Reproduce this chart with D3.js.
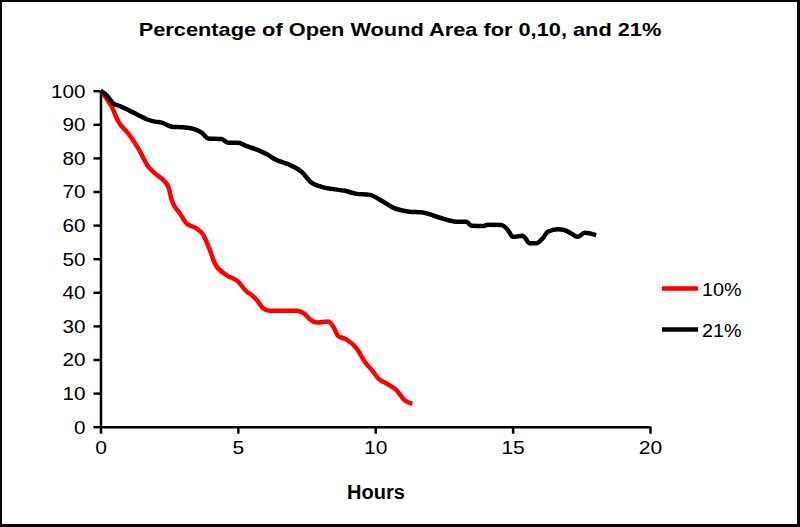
<!DOCTYPE html>
<html><head><meta charset="utf-8">
<script src="https://cdn.jsdelivr.net/npm/d3@7"></script>
<style>html,body{margin:0;padding:0;background:#fff;}svg{display:block;font-family:"Liberation Sans",Arial,sans-serif;}</style>
</head><body>
<svg id="c" width="800" height="527"></svg>
<script>
const title = "Percentage of Open Wound Area for 0,10, and 21%";
const xLabel = "Hours";
const xTicks = [0, 5, 10, 15, 20];
const yTicks = [0, 10, 20, 30, 40, 50, 60, 70, 80, 90, 100];
const seriesNames = ["10%", "21%"];
const seriesColors = ["#ff0000", "#000000"];

const hours10 = [0, 0.41, 0.65, 1.01, 1.37, 1.74, 1.98, 2.22, 2.47, 2.59, 2.89, 3.13, 3.5, 3.74, 3.98, 4.16, 4.59, 5.01, 5.32, 5.5, 5.74, 5.92, 6.16, 6.89, 7.13, 7.44, 7.62, 7.92, 8.28, 8.47, 8.65, 8.95, 9.32, 9.62, 9.92, 10.1, 10.41, 10.77, 11.07, 11.35];
const values10 = [100, 95.2, 90.8, 87.3, 82.9, 77.4, 75.4, 73.9, 71.4, 67.5, 63.5, 60.5, 59.0, 57.1, 52.6, 48.6, 45.1, 43.2, 40.2, 39.2, 37.2, 35.2, 34.5, 34.5, 34.5, 33.5, 32.0, 31.0, 31.3, 29.8, 27.0, 26.0, 23.3, 19.3, 16.4, 14.4, 12.9, 10.9, 7.9, 6.8];

const hours21 = [0, 0.22, 0.47, 0.71, 1.07, 1.37, 1.68, 1.98, 2.22, 2.59, 3.01, 3.44, 3.68, 3.92, 4.41, 4.65, 5.01, 5.32, 5.8, 6.1, 6.35, 6.95, 7.32, 7.68, 8.04, 8.47, 8.89, 9.32, 9.8, 10.28, 10.65, 11.25, 11.68, 12.35, 12.95, 13.32, 13.5, 13.92, 14.1, 14.59, 14.83, 15.01, 15.37, 15.62, 15.86, 16.1, 16.28, 16.65, 16.89, 17.13, 17.37, 17.62, 18.04];
const values21 = [100, 98.7, 96.2, 95.4, 94.0, 92.8, 91.5, 90.8, 90.5, 89.3, 89.1, 88.5, 87.5, 85.8, 85.6, 84.5, 84.5, 83.5, 82.1, 80.9, 79.6, 77.7, 75.9, 72.6, 71.4, 70.7, 70.2, 69.3, 69.0, 67.0, 65.2, 64.0, 63.8, 62.2, 61.0, 61.0, 59.8, 59.7, 60.1, 60.0, 58.5, 56.5, 56.8, 54.6, 54.6, 56.1, 58.0, 58.8, 58.5, 57.5, 56.5, 57.7, 57.0];

const svg = d3.select("#c");
svg.append("rect").attr("x",0).attr("y",0).attr("width",800).attr("height",527).attr("fill","#000");
svg.append("rect").attr("x",2).attr("y",2).attr("width",795).attr("height",522).attr("fill","#fff");

const x = d3.scaleLinear().domain([0, 20]).range([100.5, 650]);
const y = d3.scaleLinear().domain([0, 100]).range([426.7, 90.7]);

// title: scale horizontally to reference width
const t = svg.append("text").attr("x", 0).attr("y", 0).attr("text-anchor","middle")
  .attr("font-size", 18).attr("font-weight","bold").text(title);
const tw = t.node().getComputedTextLength();
t.attr("transform", `translate(400,36) scale(${523 / tw},1)`);

const xa = svg.append("g").attr("transform", `translate(0,${y(0)})`)
  .call(d3.axisBottom(x).tickValues(xTicks).tickSize(7).tickSizeOuter(0).tickFormat(d3.format("d")));
xa.select(".domain").attr("stroke-width", 2.5);
xa.selectAll(".tick line").attr("stroke-width", 2.5);
xa.selectAll(".tick text").attr("font-size", 18).attr("fill","#000").attr("y", 0).attr("dy", 0)
  .attr("transform", "translate(0,27) scale(1.17,1)");

const ya = svg.append("g").attr("transform", `translate(${x(0)},0)`)
  .call(d3.axisLeft(y).tickValues(yTicks).tickSize(7).tickSizeOuter(0));
ya.select(".domain").attr("stroke-width", 2.5);
ya.selectAll(".tick line").attr("stroke-width", 2.5);
ya.selectAll(".tick text").attr("font-size", 18).attr("fill","#000").attr("x", 0).attr("dy", "0.36em")
  .attr("transform", "translate(-15,0) scale(1.15,1)");
svg.selectAll(".domain").attr("stroke","#000");

svg.append("text").attr("x", 376).attr("y", 499).attr("text-anchor","middle")
  .attr("font-size", 20).attr("font-weight","bold").text(xLabel);

const line = d3.line().x(d => x(d[0])).y(d => y(d[1])).curve(d3.curveMonotoneX);
const data = [d3.zip(hours10, values10), d3.zip(hours21, values21)];
data.forEach((d, i) => {
  svg.append("path").datum(d).attr("d", line).attr("fill","none")
    .attr("stroke", seriesColors[i]).attr("stroke-width", 4.5)
    .attr("stroke-linejoin","round").attr("stroke-linecap","butt");
});

const legY = [288.5, 329.5];
seriesNames.forEach((n, i) => {
  svg.append("line").attr("x1", 662).attr("x2", 698).attr("y1", legY[i]).attr("y2", legY[i])
    .attr("stroke", seriesColors[i]).attr("stroke-width", 4.5);
  svg.append("text").attr("x", 0).attr("y", 0).attr("font-size", 18)
    .attr("transform", `translate(702,${legY[i] + 7}) scale(1.1,1)`).text(n);
});
</script>
</body></html>
